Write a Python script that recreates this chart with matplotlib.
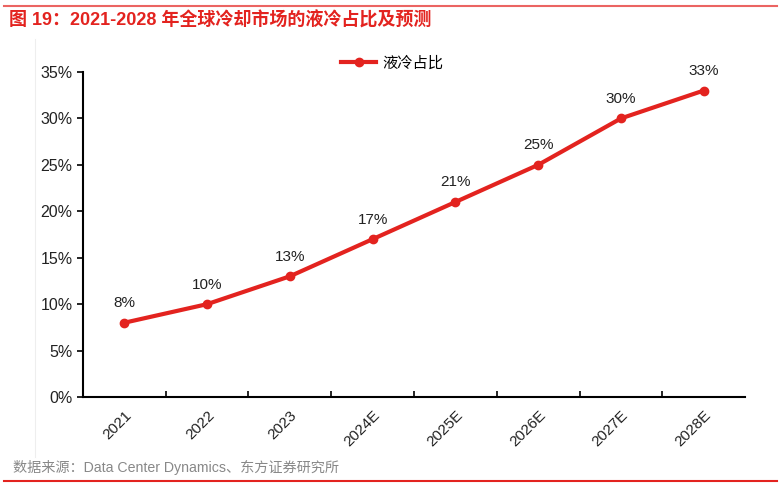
import matplotlib
matplotlib.use('Agg')
import matplotlib.pyplot as plt
from matplotlib.lines import Line2D

plt.rcParams['font.family'] = ['Liberation Sans', 'Noto Sans CJK SC', 'DejaVu Sans']

# data
years = ['2021', '2022', '2023', '2024E', '2025E', '2026E', '2027E', '2028E']
share = [8, 10, 13, 17, 21, 25, 30, 33]
series_name = '液冷占比'
title = '图 19：2021-2028 年全球冷却市场的液冷占比及预测'
source = '数据来源：Data Center Dynamics、东方证券研究所'

red = '#E3231F'

fig = plt.figure(figsize=(7.82, 4.86), dpi=100)
ax = fig.add_axes([0.106, 0.183, 0.847, 0.669])

x = list(range(len(years)))
ax.plot(x, share, color=red, lw=3, marker='o', ms=6, label=series_name)
for xi, v in zip(x, share):
    ax.annotate(f'{v}%', (xi, v), xytext=(0, 9), textcoords='offset points',
                ha='center', va='bottom', fontsize=11, color='#222222')

ax.set_xlim(-0.5, len(years) - 0.5)
ax.set_ylim(0, 35)
ax.set_yticks(range(0, 36, 5))
ax.set_yticklabels([f'{v}%' for v in range(0, 36, 5)], fontsize=11.5, color='#222222')
ax.tick_params(axis='y', direction='out', length=4, width=1.2)

# category labels at centers, tick marks at boundaries
ax.set_xticks(x)
ax.set_xticklabels(years, rotation=45, ha='right', rotation_mode='anchor',
                   fontsize=11, color='#222222')
ax.tick_params(axis='x', length=0, pad=8)
ax.set_xticks([i + 0.5 for i in x[:-1]], minor=True)
ax.tick_params(axis='x', which='minor', direction='in', length=4, width=1.2)

for s in ['top', 'right']:
    ax.spines[s].set_visible(False)
for s in ['left', 'bottom']:
    ax.spines[s].set_linewidth(1.5)
    ax.spines[s].set_color('black')

handle = Line2D([], [], color=red, lw=3, marker='o', ms=6)
ax.legend([handle], [series_name], loc='upper center', bbox_to_anchor=(0.467, 1.09),
          frameon=False, fontsize=11, handlelength=2.3, handletextpad=0.4)

# title, frame lines and source
fig.add_artist(Line2D([0.005, 0.993], [0.988, 0.988], color=red, lw=1.5, alpha=0.7))
fig.text(0.012, 0.958, title, color=red, fontsize=13, fontweight='bold', va='center')
fig.add_artist(Line2D([0.045, 0.045], [0.06, 0.92], color='#eeeeee', lw=0.8))
fig.text(0.016, 0.038, source, color='#888888', fontsize=10.2, va='center')
fig.add_artist(Line2D([0.005, 0.993], [0.01, 0.01], color=red, lw=1.5))

fig.savefig('out.png', dpi=100)
